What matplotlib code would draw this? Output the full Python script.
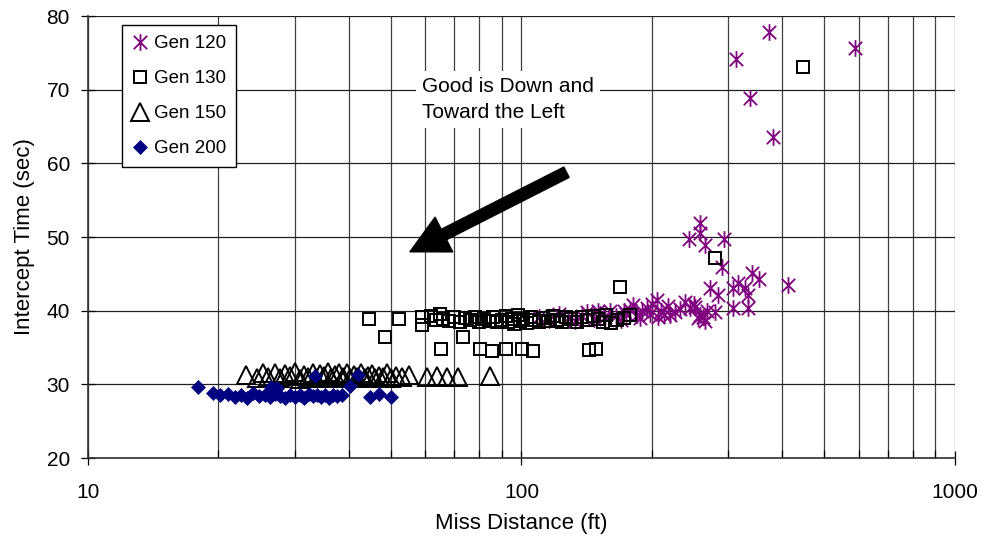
import matplotlib
matplotlib.use("Agg")
import matplotlib.pyplot as plt
import numpy as np
from matplotlib.path import Path
from matplotlib.ticker import LogLocator, NullFormatter, FixedLocator

plt.rcParams['font.family'] = ['Liberation Sans', 'DejaVu Sans']

# ---- data ----
gen120_x = [110, 116, 122, 128, 133, 138, 142, 147, 152, 156, 160, 165, 170, 174, 178, 181,
            185, 190, 195, 200, 205, 206, 210, 213, 218, 220, 226, 232, 238, 245, 251, 256,
            258, 262, 265, 272, 279, 284, 243, 258, 258, 265, 293, 290, 307, 316, 328, 340,
            353, 333, 412, 307, 333, 372, 312, 588, 336, 380, 250, 268, 188, 198, 172, 150]
gen120_y = [39.2, 38.8, 39.5, 39.0, 38.6, 39.3, 39.8, 38.9, 39.6, 39.1, 39.9, 39.3, 38.8, 39.6, 40.1, 40.8,
            39.4, 39.9, 40.4, 40.9, 41.4, 39.1, 40.0, 39.4, 40.6, 39.4, 39.8, 40.2, 41.2, 40.4, 40.5, 39.0,
            39.4, 39.1, 38.6, 43.1, 39.8, 42.1, 49.7, 51.9, 50.5, 48.9, 49.7, 45.9, 43.1, 43.8, 43.1, 45.1,
            44.3, 42.1, 43.5, 40.4, 40.4, 77.8, 74.2, 75.7, 68.9, 63.6, 40.9, 40.0, 39.0, 39.6, 40.0, 39.9]

gen130_x = [44.5, 52.1, 48.4, 58.9, 59.1, 65.2, 73.3, 80.2, 85.5, 92.1, 100.2, 106.4, 143, 148.7,
            168.7, 279, 446,
            62, 63.5, 65, 66, 68, 70, 72, 74, 76, 78, 80, 82, 84, 86, 88, 90, 92, 93, 95, 96,
            98, 99, 101, 103, 105, 107, 110, 112, 115, 118, 121, 124, 127, 130, 134, 138, 142,
            146, 150, 154, 157, 161, 166, 172, 178]
gen130_y = [38.9, 38.9, 36.4, 39.1, 38.1, 34.8, 36.4, 34.8, 34.5, 34.8, 34.8, 34.5, 34.7, 34.8,
            43.2, 47.1, 73.1,
            39.3, 38.7, 39.5, 38.9, 38.6, 39.2, 38.5, 39.0, 38.7, 39.1, 38.4, 38.9, 38.6, 39.2, 38.5, 38.8, 39.3, 38.4, 38.9, 38.2,
            39.4, 38.6, 38.9, 38.3, 39.2, 38.7, 38.4, 39.0, 38.6, 39.3, 38.8, 38.5, 39.2, 38.9, 38.4, 39.1, 38.7,
            39.3, 38.9, 38.5, 39.4, 38.3, 38.8, 39.0, 39.4]

gen150_x = [23.2, 24.5, 25.3, 26.0, 27.0, 27.8, 28.5, 29.3, 30.0, 30.8, 31.5, 32.2, 33.0, 33.6,
            34.3, 35.0, 35.7, 36.4, 37.2, 38.0, 38.8, 39.5, 40.3, 41.0, 41.8, 42.6, 43.5, 44.3,
            45.2, 46.0, 47.0, 48.0, 49.0, 50.0, 51.3, 53.0, 55.0, 60.5, 63.8, 67.3, 71.3, 84.5]
gen150_y = [31.3, 30.8, 31.5, 31.0, 31.6, 30.9, 31.4, 31.1, 31.7, 30.7, 31.3, 31.0, 31.6, 30.8,
            31.4, 31.1, 31.7, 30.9, 31.3, 31.5, 31.0, 31.6, 30.8, 31.3, 31.0, 31.5, 30.9, 31.2,
            31.4, 30.8, 31.2, 31.0, 31.5, 30.9, 31.2, 31.0, 31.3, 31.0, 31.1, 31.0, 31.0, 31.1]

gen200_x = [17.9, 19.4, 20.2, 21.0, 21.8, 22.5, 23.3, 24.0, 24.8, 25.6, 26.3, 27.0, 27.8, 28.5,
            29.3, 30.0, 30.8, 31.5, 32.3, 33.0, 33.8, 34.5, 35.3, 36.0, 36.8, 37.6, 38.5,
            26.5, 27.3, 33.4, 42.0, 40.2, 44.7, 46.9, 50.0]
gen200_y = [29.7, 28.8, 28.5, 28.7, 28.3, 28.6, 28.2, 28.8, 28.4, 28.6, 28.3, 28.7, 28.4, 28.2,
            28.6, 28.3, 28.5, 28.2, 28.7, 28.4, 28.6, 28.3, 28.5, 28.2, 28.6, 28.4, 28.5,
            29.6, 29.5, 31.1, 31.3, 29.8, 28.3, 28.7, 28.3]

y_ticks = [20, 30, 40, 50, 60, 70, 80]
x_ticks = [10, 100, 1000]
x_ticklabels = ['10', '100', '1000']
legend_labels = ['Gen 120', 'Gen 130', 'Gen 150', 'Gen 200']
annot_text = 'Good is Down and\nToward the Left'

# ---- figure ----
fig = plt.figure(figsize=(9.83, 5.36), dpi=100)
ax = fig.add_axes([0.0895, 0.1455, 0.882, 0.8245])

ax.set_xscale('log')
ax.set_xlim(10, 1000)
ax.set_ylim(20, 80)

# custom asterisk: X plus vertical line
ast_path = Path([(0, -1), (0, 1), (-0.8, -0.8), (0.8, 0.8), (-0.8, 0.8), (0.8, -0.8)],
                [Path.MOVETO, Path.LINETO, Path.MOVETO, Path.LINETO, Path.MOVETO, Path.LINETO])

purple = '#800080'
navy = '#000080'

ax.plot(gen120_x, gen120_y, linestyle='none', marker=ast_path, ms=12, mew=1.3,
        mec=purple, mfc='none', label=legend_labels[0], zorder=3)
ax.plot(gen130_x, gen130_y, linestyle='none', marker='s', ms=9, mew=1.4,
        mec='black', mfc='none', label=legend_labels[1], zorder=3)
ax.plot(gen150_x, gen150_y, linestyle='none', marker='^', ms=13, mew=1.4,
        mec='black', mfc='none', label=legend_labels[2], zorder=3)
ax.plot(gen200_x, gen200_y, linestyle='none', marker='D', ms=7, mew=0.5,
        mec=navy, mfc=navy, label=legend_labels[3], zorder=3)

# grid
ax.xaxis.set_major_locator(FixedLocator(x_ticks))
ax.set_xticklabels(x_ticklabels)
ax.xaxis.set_minor_locator(LogLocator(base=10, subs=np.arange(2, 10)))
ax.xaxis.set_minor_formatter(NullFormatter())
ax.set_yticks(y_ticks)
ax.grid(True, which='both', axis='x', color='#404040', lw=0.9)
ax.grid(True, which='major', axis='y', color='#202020', lw=0.9)
ax.set_axisbelow(True)

for s in ['top', 'right']:
    ax.spines[s].set_visible(False)
for s in ['left', 'bottom']:
    ax.spines[s].set_color('#303030')
    ax.spines[s].set_linewidth(1.2)

ax.tick_params(axis='y', which='major', direction='inout', length=10, width=0.9,
               labelsize=15, pad=8)
ax.tick_params(axis='x', which='major', direction='inout', length=10, width=0.9,
               labelsize=15, pad=13)
ax.tick_params(axis='x', which='minor', direction='in', length=6, width=0.9)

ax.set_xlabel('Miss Distance (ft)', fontsize=16, labelpad=8)
ax.set_ylabel('Intercept Time (sec)', fontsize=16, labelpad=8)

leg = ax.legend(loc='upper left', bbox_to_anchor=(0.039, 0.98), fontsize=13.5,
                frameon=True, fancybox=False, edgecolor='black', framealpha=1,
                borderpad=0.55, labelspacing=0.95, handletextpad=0.35, handlelength=0.8,
                borderaxespad=0)
leg.get_frame().set_linewidth(1.0)

# annotation text box
ax.text(58.9, 68.7, annot_text, fontsize=15, ha='left', va='center',
        linespacing=1.45, zorder=4,
        bbox=dict(boxstyle='square,pad=0.3', fc='white', ec='none'))

# arrow
ax.annotate('', xy=(55.3, 48.0), xytext=(127, 58.8),
            arrowprops=dict(arrowstyle='simple,head_length=1.37,head_width=1.4,tail_width=0.42',
                            color='black', shrinkA=0, shrinkB=0, mutation_scale=20),
            zorder=5)

fig.savefig('out.png', dpi=100)
